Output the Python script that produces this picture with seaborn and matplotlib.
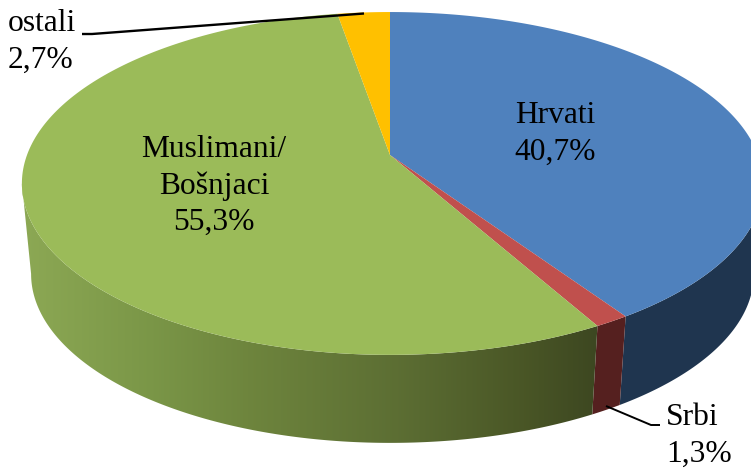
"""3D pie chart: population shares, drawn with a perspective projection of the unit circle."""

import numpy as np
import matplotlib
matplotlib.use("Agg")
import matplotlib.pyplot as plt
from matplotlib.patches import Polygon
import seaborn as sns

sns.set_theme(style="white")
plt.rcParams['font.family'] = ['Liberation Serif', 'DejaVu Serif']

# Data, clockwise from 12 o'clock
categories = ["Hrvati", "Srbi", "Muslimani/\nBošnjaci", "ostali"]
shares = [40.7, 1.3, 55.3, 2.7]
share_labels = ["40,7%", "1,3%", "55,3%", "2,7%"]

top_colors = sns.color_palette(["#4f81bd", "#c0504d", "#9bbb59", "#ffc000"])
wall_colors = ["#1f354f", "#55201f", None, "#8a6a00"]

# Green wall is shaded left to right
green_x = [22, 150, 250, 400, 520, 595]
green_rgb = [(0.55, 0.66, 0.33), (0.48, 0.59, 0.28), (0.43, 0.52, 0.24),
             (0.36, 0.43, 0.20), (0.29, 0.34, 0.15), (0.24, 0.28, 0.13)]

# Projection constants (pixels)
CX, CY = 390, 155
A_LEFT, A_RIGHT, R, K = 363, 368, 166.7, 0.166
BASE_SCALE_X, BASE_SCALE_Y, BASE_CY = 0.975, 0.985, 246
FONT_PX = 31.5
FONT_SIZE = FONT_PX * 72 / 100


def project(theta, base=False):
    u, v = np.sin(theta), np.cos(theta)
    d = 1 + K * v
    x, y = np.where(u > 0, A_RIGHT, A_LEFT) * u / d, -R * v / d
    if base:
        return CX + BASE_SCALE_X * x, BASE_CY + BASE_SCALE_Y * y
    return CX + x, CY + y


fig, ax = plt.subplots(figsize=(7.51, 4.70), dpi=100)
fig.subplots_adjust(0, 0, 1, 1)

edges = 2 * np.pi * np.concatenate([[0], np.cumsum(shares)]) / np.sum(shares)

# Only the front of the wall shows: between the rightmost and leftmost rim points
circle = np.linspace(0, 2 * np.pi, 3000)
rim_x = project(circle)[0]
theta_right, theta_left = circle[np.argmax(rim_x)], circle[np.argmin(rim_x)]

# Side walls
for i in range(len(shares)):
    start, stop = max(edges[i], theta_right), min(edges[i + 1], theta_left)
    if start >= stop:
        continue
    thetas = np.linspace(start, stop, 200)
    x, y = project(thetas)
    bx, by = project(thetas, base=True)
    outline = np.c_[np.r_[x, bx[::-1]], np.r_[y, by[::-1]]]
    if wall_colors[i] is None:
        px = np.arange(0, 751)
        grad = np.stack([np.interp(px, green_x, [c[k] for c in green_rgb]) for k in range(3)], axis=-1)
        im = ax.imshow(grad[np.newaxis, :, :], extent=(0, 751, 470, 0), aspect="auto", zorder=1)
        im.set_clip_path(Polygon(outline, transform=ax.transData))
    else:
        ax.fill(outline[:, 0], outline[:, 1], color=wall_colors[i], lw=0, zorder=1)

ax.set_xlim(0, 751)
ax.set_ylim(470, 0)
ax.axis("off")

# Top faces
for i in range(len(shares)):
    thetas = np.linspace(edges[i], edges[i + 1], 200)
    x, y = project(thetas)
    ax.fill(np.r_[CX, x], np.r_[CY, y], color=top_colors[i], lw=0, zorder=2)

# Leader lines
ax.plot([82, 92, 364], [34, 34, 13.5], color="black", lw=1.7, zorder=3, solid_capstyle="butt")
ax.plot([606, 651, 660], [406, 425, 425], color="black", lw=1.4, zorder=3, solid_capstyle="butt")

# Labels
txt = dict(fontsize=FONT_SIZE, color="black", zorder=4, linespacing=1.32)
ax.text(555, 134, f"{categories[0]}\n{share_labels[0]}", ha="center", va="center", **txt)
ax.text(214, 186, f"{categories[2]}\n{share_labels[2]}", ha="center", va="center", **txt)
ax.text(8, 42, f"{categories[3]}\n{share_labels[3]}", ha="left", va="center", **txt)
ax.text(666, 436, f"{categories[1]}\n{share_labels[1]}", ha="left", va="center", **txt)

fig.savefig("out.png", dpi=100)
